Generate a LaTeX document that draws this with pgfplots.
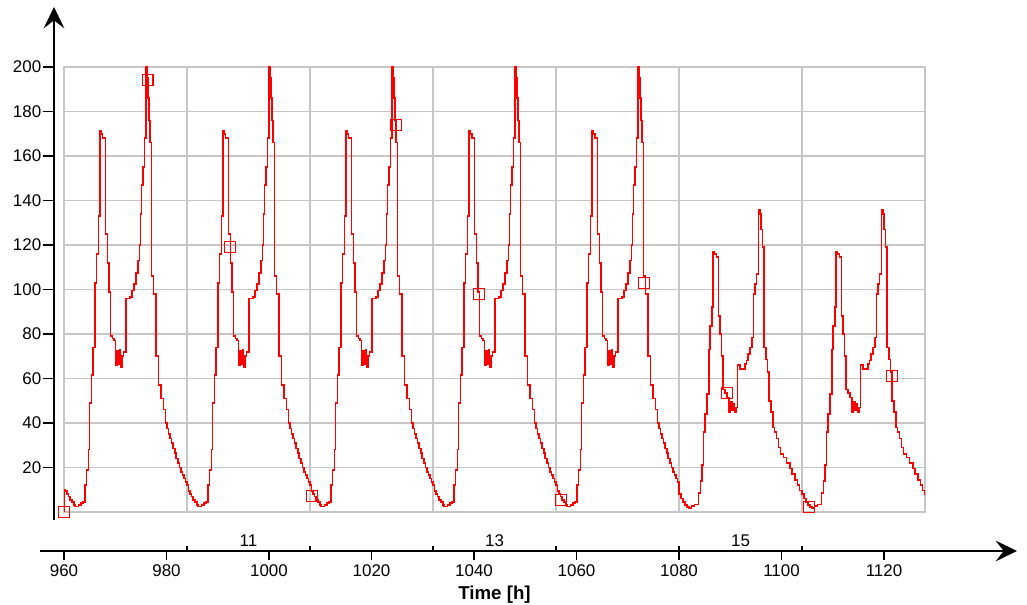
\documentclass[border=0pt]{standalone}
\usepackage{pgfplots}
\pgfplotsset{compat=1.18}
\usepackage{fontspec}
\setmainfont{Liberation Sans}
\usetikzlibrary{arrows.meta}
\definecolor{gridgray}{RGB}{198,198,198}
\newcommand{\tickfont}{\fontsize{12.7}{15}\selectfont}
\begin{document}
\begin{tikzpicture}
\useasboundingbox (-48pt,-69.75pt) rectangle (722.25pt,384pt);
% plot box with grid
\begin{axis}[
  at={(0pt,0pt)}, anchor=south west,
  scale only axis, width=645.75pt, height=333.75pt,
  xmin=960, xmax=1128, ymin=0, ymax=200,
  xtick={984,1008,1032,1056,1080,1104}, ytick={20,40,...,180},
  xticklabels={}, yticklabels={},
  ticklabel style={opacity=0},
  major tick length=0pt,
  grid=major, grid style={gridgray, line width=1.1pt},
  axis line style={gridgray, line width=1.1pt},
]
\addplot[red, line width=1.2pt, const plot mark left] coordinates {
(960,0) (960.02,10) (960.3,9.5) (960.6,8) (960.9,7) (961.2,5.5) (961.6,4.5) (961.9,3.2) (962.2,2.5) (962.8,3.2) (963.3,4) (963.7,4.5) (964.1,12) (964.4,19) (964.8,28) (965.0,49) (965.35,61.5) (965.7,74) (966.05,103) (966.35,116) (966.7,133) (967.05,171.5) (967.3,170) (967.55,168) (968.1,125) (968.45,112) (968.8,99) (969.1,79) (969.5,78) (969.8,77) (970.05,66) (970.3,72.5) (970.55,66.5) (970.8,73) (971.05,65) (971.3,70) (971.6,72) (972.05,96) (972.9,96.5) (973.3,99.5) (973.7,102.5) (974.1,107.5) (974.4,113) (974.7,120) (974.95,134) (975.15,147) (975.4,155) (975.7,168) (975.95,205) (976.15,195) (976.35,186) (976.6,176) (976.8,166) (977.1,106) (977.45,98) (977.9,70) (978.45,57) (978.9,51) (979.4,46) (979.8,40) (980.1,37.5) (980.4,35) (980.7,33) (981.0,31) (981.3,28.5) (981.6,26.5) (981.9,24) (982.2,22) (982.5,20) (982.8,18) (983.1,16.5) (983.4,15) (983.7,13.5)
(984,12) (984.3,9.5) (984.6,8) (984.9,7) (985.2,5.5) (985.6,4.5) (985.9,3.2) (986.2,2.5) (986.8,3.2) (987.3,4) (987.7,4.5) (988.1,12) (988.4,19) (988.8,28) (989.0,49) (989.35,61.5) (989.7,74) (990.05,103) (990.35,116) (990.7,133) (991.05,171.5) (991.3,170) (991.55,168) (992.1,125) (992.45,112) (992.8,99) (993.1,79) (993.5,78) (993.8,77) (994.05,66) (994.3,72.5) (994.55,66.5) (994.8,73) (995.05,65) (995.3,70) (995.6,72) (996.05,96) (996.9,96.5) (997.3,99.5) (997.7,102.5) (998.1,107.5) (998.4,113) (998.7,120) (998.95,134) (999.15,147) (999.4,155) (999.7,168) (999.95,205) (1000.15,195) (1000.35,186) (1000.6,176) (1000.8,166) (1001.1,106) (1001.45,98) (1001.9,70) (1002.45,57) (1002.9,51) (1003.4,46) (1003.8,40) (1004.1,37.5) (1004.4,35) (1004.7,33) (1005.0,31) (1005.3,28.5) (1005.6,26.5) (1005.9,24) (1006.2,22) (1006.5,20) (1006.8,18) (1007.1,16.5) (1007.4,15) (1007.7,13.5)
(1008,12) (1008.3,9.5) (1008.6,8) (1008.9,7) (1009.2,5.5) (1009.6,4.5) (1009.9,3.2) (1010.2,2.5) (1010.8,3.2) (1011.3,4) (1011.7,4.5) (1012.1,12) (1012.4,19) (1012.8,28) (1013.0,49) (1013.35,61.5) (1013.7,74) (1014.05,103) (1014.35,116) (1014.7,133) (1015.05,171.5) (1015.3,170) (1015.55,168) (1016.1,125) (1016.45,112) (1016.8,99) (1017.1,79) (1017.5,78) (1017.8,77) (1018.05,66) (1018.3,72.5) (1018.55,66.5) (1018.8,73) (1019.05,65) (1019.3,70) (1019.6,72) (1020.05,96) (1020.9,96.5) (1021.3,99.5) (1021.7,102.5) (1022.1,107.5) (1022.4,113) (1022.7,120) (1022.95,134) (1023.15,147) (1023.4,155) (1023.7,168) (1023.95,205) (1024.15,195) (1024.35,186) (1024.6,176) (1024.8,166) (1025.1,106) (1025.45,98) (1025.9,70) (1026.45,57) (1026.9,51) (1027.4,46) (1027.8,40) (1028.1,37.5) (1028.4,35) (1028.7,33) (1029.0,31) (1029.3,28.5) (1029.6,26.5) (1029.9,24) (1030.2,22) (1030.5,20) (1030.8,18) (1031.1,16.5) (1031.4,15) (1031.7,13.5)
(1032,12) (1032.3,9.5) (1032.6,8) (1032.9,7) (1033.2,5.5) (1033.6,4.5) (1033.9,3.2) (1034.2,2.5) (1034.8,3.2) (1035.3,4) (1035.7,4.5) (1036.1,12) (1036.4,19) (1036.8,28) (1037.0,49) (1037.35,61.5) (1037.7,74) (1038.05,103) (1038.35,116) (1038.7,133) (1039.05,171.5) (1039.3,170) (1039.55,168) (1040.1,125) (1040.45,112) (1040.8,99) (1041.1,79) (1041.5,78) (1041.8,77) (1042.05,66) (1042.3,72.5) (1042.55,66.5) (1042.8,73) (1043.05,65) (1043.3,70) (1043.6,72) (1044.05,96) (1044.9,96.5) (1045.3,99.5) (1045.7,102.5) (1046.1,107.5) (1046.4,113) (1046.7,120) (1046.95,134) (1047.15,147) (1047.4,155) (1047.7,168) (1047.95,205) (1048.15,195) (1048.35,186) (1048.6,176) (1048.8,166) (1049.1,106) (1049.45,98) (1049.9,70) (1050.45,57) (1050.9,51) (1051.4,46) (1051.8,40) (1052.1,37.5) (1052.4,35) (1052.7,33) (1053.0,31) (1053.3,28.5) (1053.6,26.5) (1053.9,24) (1054.2,22) (1054.5,20) (1054.8,18) (1055.1,16.5) (1055.4,15) (1055.7,13.5)
(1056,12) (1056.3,9.5) (1056.6,8) (1056.9,7) (1057.2,5.5) (1057.6,4.5) (1057.9,3.2) (1058.2,2.5) (1058.8,3.2) (1059.3,4) (1059.7,4.5) (1060.1,12) (1060.4,19) (1060.8,28) (1061.0,49) (1061.35,61.5) (1061.7,74) (1062.05,103) (1062.35,116) (1062.7,133) (1063.05,171.5) (1063.3,170) (1063.55,168) (1064.1,125) (1064.45,112) (1064.8,99) (1065.1,79) (1065.5,78) (1065.8,77) (1066.05,66) (1066.3,72.5) (1066.55,66.5) (1066.8,73) (1067.05,65) (1067.3,70) (1067.6,72) (1068.05,96) (1068.9,96.5) (1069.3,99.5) (1069.7,102.5) (1070.1,107.5) (1070.4,113) (1070.7,120) (1070.95,134) (1071.15,147) (1071.4,155) (1071.7,168) (1071.95,205) (1072.15,195) (1072.35,186) (1072.6,176) (1072.8,166) (1073.1,106) (1073.45,98) (1073.9,70) (1074.45,57) (1074.9,51) (1075.4,46) (1075.8,40) (1076.1,37.5) (1076.4,35) (1076.7,33) (1077.0,31) (1077.3,28.5) (1077.6,26.5) (1077.9,24) (1078.2,22) (1078.5,20) (1078.8,18) (1079.1,16.5) (1079.4,15) (1079.7,13.5)
(1080,8) (1080.4,6) (1080.8,4.5) (1081.2,3.2) (1081.6,2.2) (1082.0,1.8) (1082.4,2.8) (1083.0,3.3) (1083.8,8.5) (1084.2,14) (1084.45,21) (1084.75,36) (1085.1,44) (1085.45,53) (1085.8,73) (1086.1,83.5) (1086.4,92) (1086.6,117) (1086.9,116) (1087.3,114.5) (1087.7,88) (1088.0,80) (1088.3,70) (1088.6,55) (1089.0,53.5) (1089.4,51.5) (1089.7,45) (1090.0,49.4) (1090.3,45.7) (1090.6,48.7) (1090.8,45) (1091.1,47) (1091.45,66) (1091.9,64.4) (1092.6,64) (1092.9,66.5) (1093.2,68) (1093.5,71) (1093.85,74) (1094.2,78.5) (1094.5,98) (1094.8,102.5) (1095.15,107) (1095.5,136) (1095.75,134) (1095.95,127) (1096.3,119) (1096.6,74) (1097.0,68.5) (1097.3,63) (1097.6,50) (1097.95,45) (1098.3,38) (1098.6,36) (1099.0,33) (1099.4,29) (1099.8,26) (1100.4,24.5) (1101.0,22) (1101.6,19.5) (1102.1,17) (1102.6,14.5) (1103.1,12) (1103.5,9.7)
(1104,8) (1104.4,6) (1104.8,4.5) (1105.2,3.2) (1105.6,2.2) (1106.0,1.8) (1106.4,2.8) (1107.0,3.3) (1107.8,8.5) (1108.2,14) (1108.45,21) (1108.75,36) (1109.1,44) (1109.45,53) (1109.8,73) (1110.1,83.5) (1110.4,92) (1110.6,117) (1110.9,116) (1111.3,114.5) (1111.7,88) (1112.0,80) (1112.3,70) (1112.6,55) (1113.0,53.5) (1113.4,51.5) (1113.7,45) (1114.0,49.4) (1114.3,45.7) (1114.6,48.7) (1114.8,45) (1115.1,47) (1115.45,66) (1115.9,64.4) (1116.6,64) (1116.9,66.5) (1117.2,68) (1117.5,71) (1117.85,74) (1118.2,78.5) (1118.5,98) (1118.8,102.5) (1119.15,107) (1119.5,136) (1119.75,134) (1119.95,127) (1120.3,119) (1120.6,74) (1121.0,68.5) (1121.3,63) (1121.6,50) (1121.95,45) (1122.3,38) (1122.6,36) (1123.0,33) (1123.4,29) (1123.8,26) (1124.4,24.5) (1125.0,22) (1125.6,19.5) (1126.1,17) (1126.6,14.5) (1127.1,12) (1127.5,9.7) (1127.9,8) (1128,8)
};
\end{axis}
% markers (unclipped overlay with the same geometry)
\begin{axis}[
  at={(0pt,0pt)}, anchor=south west,
  scale only axis, width=645.75pt, height=333.75pt,
  xmin=960, xmax=1128, ymin=0, ymax=200,
  hide axis, clip=false,
]
\addplot[only marks, mark=none,
  nodes near coords={},
  every node near coord/.append style={anchor=center, draw=red, line width=0.8pt,
     rectangle, minimum size=8.2pt, inner sep=0pt, fill=none, yshift=0pt},
] coordinates {
(960,0) (976.3,194) (992.45,119) (1008.45,7.3) (1024.8,174) (1040.9,98) (1057.0,5.2) (1073.25,103) (1089.3,53.4) (1105.4,2.2) (1121.55,61)
};
\end{axis}
% y axis
\begin{axis}[
  at={(-7.5pt,-6pt)}, anchor=south west,
  scale only axis, width=10pt, height=384.75pt,
  xmin=0, xmax=1, ymin=-3.6, ymax=227,
  axis y line=left, axis x line=none,
  y axis line style={line width=1.3pt, -{Stealth[length=16pt, width=15.5pt, inset=6pt]}},
  ytick={20,40,...,200},
  tick align=outside, major tick length=8.25pt,
  ytick style={line width=1.1pt, black},
  yticklabel style={font=\tickfont, xshift=2.2pt, /pgf/number format/assume math mode=true},
]
\end{axis}
% x axis
\begin{axis}[
  at={(-18pt,-29.25pt)}, anchor=south west,
  scale only axis, width=732.75pt, height=10pt,
  xmin=955.317, xmax=1145.95, ymin=0, ymax=1,
  axis x line=bottom, axis y line=none,
  x axis line style={line width=1.3pt, -{Stealth[length=16pt, width=15.5pt, inset=6pt]}},
  xtick={960,980,...,1120},
  tick align=outside, major tick length=6.75pt,
  xtick style={line width=1.1pt, black},
  xticklabel style={font=\tickfont, /pgf/number format/assume math mode=true, /pgf/number format/1000 sep={}},
  extra x ticks={984,1008,1032,1056,1080,1104},
  extra x tick labels={},
  extra x tick style={tick align=inside, major tick length=4pt},
  clip=false,
]
\node[font=\tickfont, anchor=base] at (axis cs:996,0) [yshift=3.3pt] {11};
\node[font=\tickfont, anchor=base] at (axis cs:1044,0) [yshift=3.3pt] {13};
\node[font=\tickfont, anchor=base] at (axis cs:1092,0) [yshift=3.3pt] {15};
\node[font=\bfseries\fontsize{14}{16}\selectfont, anchor=base] at (axis cs:1044,0) [yshift=-36.2pt] {Time [h]};
\end{axis}
\end{tikzpicture}
\end{document}
